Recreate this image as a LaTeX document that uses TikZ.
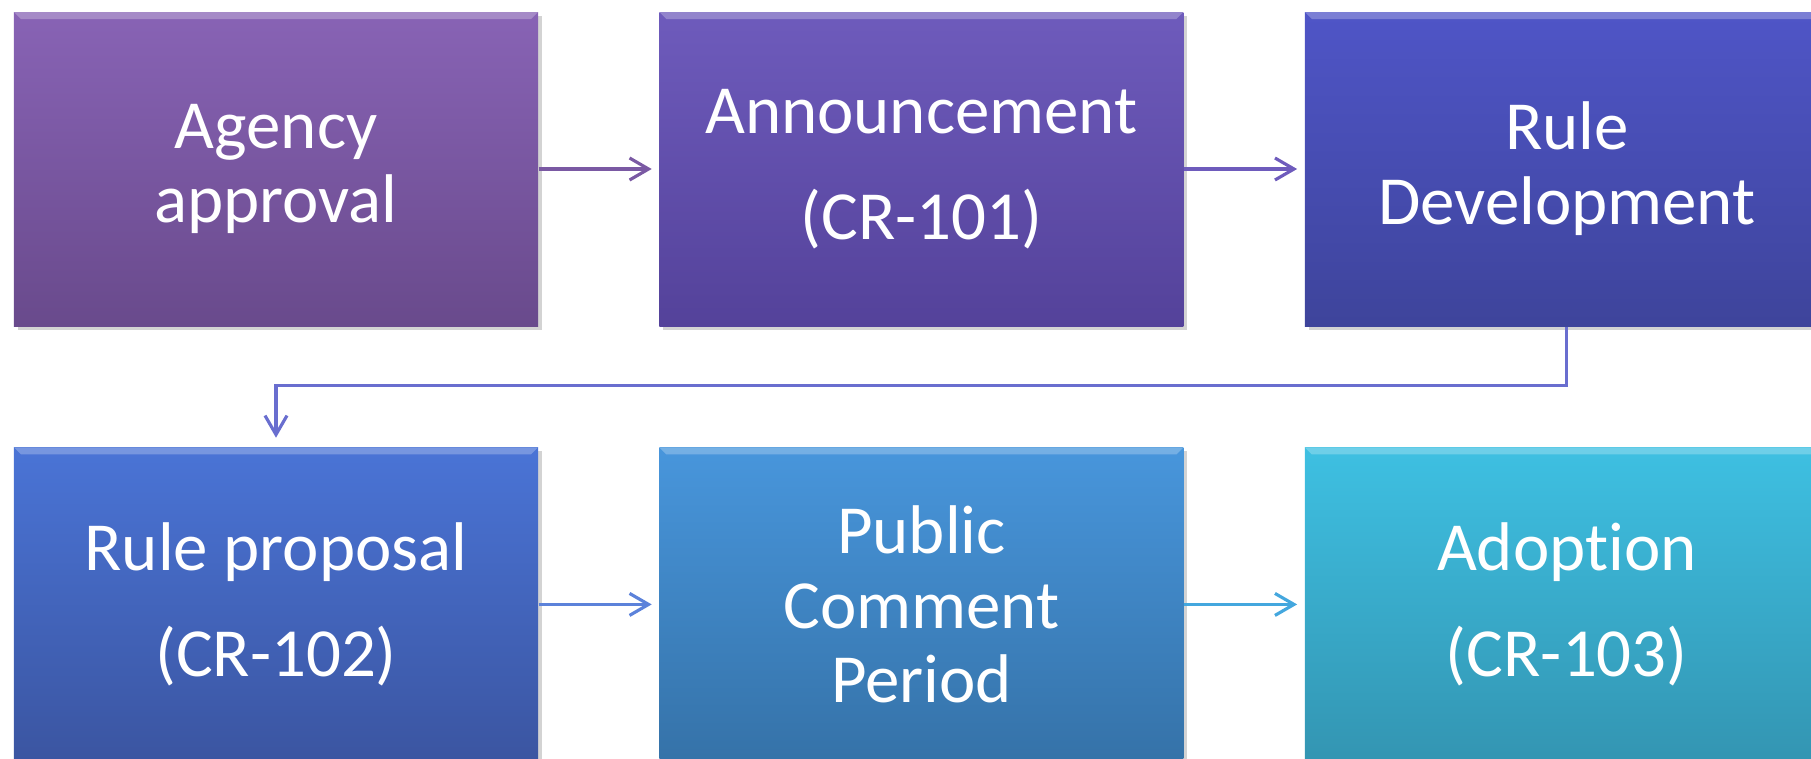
\documentclass[tikz,border=0pt]{standalone}
\usepackage{fontspec}
\setmainfont{Carlito}[RawFeature={-liga;-clig;-calt;-rlig;-dlig}]
\usetikzlibrary{positioning,arrows.meta,shadows}

\definecolor{agtop}{HTML}{8863B5}
\definecolor{agbot}{HTML}{694A8C}
\definecolor{antop}{HTML}{6E5BBC}
\definecolor{anbot}{HTML}{54429A}
\definecolor{rdtop}{HTML}{4F55C7}
\definecolor{rdbot}{HTML}{3E449B}
\definecolor{rptop}{HTML}{4A74D6}
\definecolor{rpbot}{HTML}{3B55A1}
\definecolor{pctop}{HTML}{4896DC}
\definecolor{pcbot}{HTML}{3572A8}
\definecolor{adtop}{HTML}{3EC0E2}
\definecolor{adbot}{HTML}{3395B2}

\begin{document}
\begin{tikzpicture}[
                    node distance=1.2cm,
                    stage/.style 2 args={
                        rectangle,
                        minimum width=5.24cm,
                        minimum height=3.14cm,
                        inner sep=0pt,
                        top color=#1,
                        bottom color=#2,
                        text=white,
                        align=center,
                        font=\fontsize{19.6}{21.3}\selectfont,
                        drop shadow={opacity=0.35, shadow xshift=0.04cm, shadow yshift=-0.04cm},
                        path picture={
                            \fill[white, opacity=0.25]
                                (path picture bounding box.north west) --
                                (path picture bounding box.north east) --
                                ([xshift=-0.07cm, yshift=-0.07cm]path picture bounding box.north east) --
                                ([xshift=0.07cm, yshift=-0.07cm]path picture bounding box.north west) -- cycle;
                        }
                    },
                    flow/.style={
                        line width=0.9pt,
                        -{Straight Barb[length=0.19cm, width=0.22cm]},
                        shorten >=0.07cm
                    }
                ]

                    \clip (0,0) rectangle (18.11,7.58);

                    \node[stage={agtop}{agbot}] (ag) at (2.76,5.89) {Agency\\approval};
                    \node[stage={antop}{anbot}] (an) [right=of ag] {Announcement\\[0.31cm](CR-101)};
                    \node[stage={rdtop}{rdbot}] (rd) [right=of an] {Rule\\Development};
                    \node[stage={rptop}{rpbot}] (rp) [below=of ag] {Rule proposal\\[0.31cm](CR-102)};
                    \node[stage={pctop}{pcbot}] (pc) [right=of rp] {Public\\Comment\\Period};
                    \node[stage={adtop}{adbot}] (ad) [right=of pc] {Adoption\\[0.31cm](CR-103)};

                    % Edges
                    \draw[flow, color=agtop!90!black] (ag) -- (an);
                    \draw[flow, color=antop] (an) -- (rd);
                    \draw[flow, color=rdtop!85!white, shorten >=0.09cm] (rd.south) -- ++(0,-0.59) -| (rp.north);
                    \draw[flow, color=rptop!90!white] (rp) -- (pc);
                    \draw[flow, color=pctop!60!adtop] (pc) -- (ad);
                \end{tikzpicture}
\end{document}
